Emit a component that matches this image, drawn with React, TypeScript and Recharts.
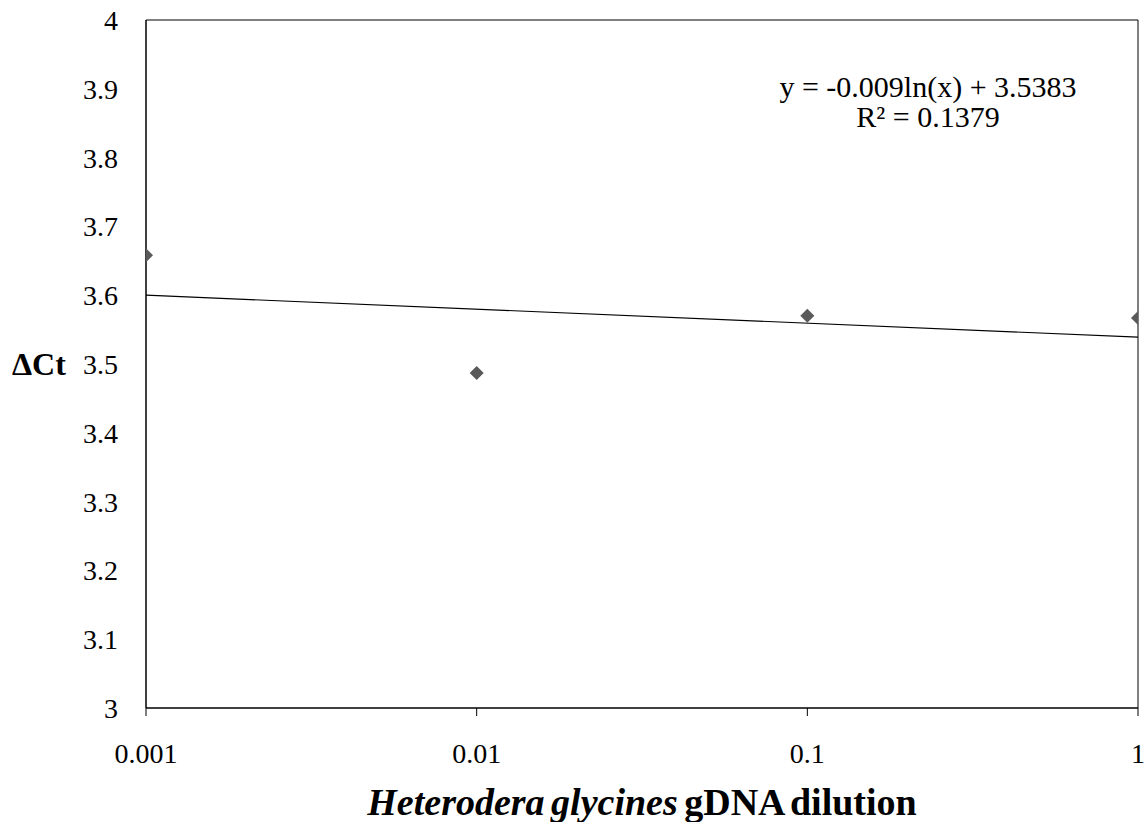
import { ScatterChart, Scatter, XAxis, YAxis, ReferenceArea, Label } from "recharts";

// dilution levels and measured ΔCt
const dilutions = [0.001, 0.01, 0.1, 1];
const deltaCt = [3.658, 3.487, 3.57, 3.567];

// logarithmic trendline, read at the ends of the axis
const trendX = [0.001, 1];
const trendY = [3.6, 3.539];

const xTicks = [0.001, 0.01, 0.1, 1];
const yTicks = [3, 3.1, 3.2, 3.3, 3.4, 3.5, 3.6, 3.7, 3.8, 3.9, 4];

const equation = "y = -0.009ln(x) + 3.5383";
const rSquared = "R² = 0.1379";

const FONT = '"Liberation Serif", "Times New Roman", serif';

const points = dilutions.map((x, i) => ({ x, y: deltaCt[i] }));
const trend = trendX.map((x, i) => ({ x, y: trendY[i] }));

const Diamond = (props: any) => {
  const { cx, cy } = props;
  const r = 7;
  return <path d={`M${cx},${cy - r}L${cx + r},${cy}L${cx},${cy + r}L${cx - r},${cy}Z`} fill="#5a5a5a" />;
};

const XTitle = (props: any) => {
  const { x, y, width, height } = props.viewBox;
  return (
    <text
      x={x + width / 2}
      y={y + height - 7}
      textAnchor="middle"
      fontFamily={FONT}
      fontSize={38}
      fontWeight="bold"
      fill="#000"
      style={{ wordSpacing: -3 }}
    >
      <tspan fontStyle="italic">Heterodera glycines</tspan>
      <tspan> gDNA dilution</tspan>
    </text>
  );
};

const EquationLabel = (props: any) => {
  const { x, width, y } = props.viewBox;
  const cx = x + width - 210;
  return (
    <text textAnchor="middle" fontFamily={FONT} fontSize={30} fill="#000">
      <tspan x={cx} y={y + 77}>{equation}</tspan>
      <tspan x={cx} y={y + 107}>{rSquared}</tspan>
    </text>
  );
};

export default function App() {
  return (
    <div style={{ position: "absolute", left: 0, top: 0, background: "#fff" }}>
      <ScatterChart width={1148} height={822} margin={{ top: 20, right: 10, bottom: 0, left: 0 }}>
        <XAxis
          type="number"
          dataKey="x"
          scale="log"
          domain={[0.001, 1]}
          ticks={xTicks}
          allowDataOverflow
          height={114}
          stroke="#000"
          tickSize={8}
          tickMargin={27}
          tick={{ fill: "#000", fontSize: 28, fontFamily: FONT }}
          tickFormatter={(v) => String(v)}
        >
          <Label content={<XTitle />} />
        </XAxis>
        <YAxis
          type="number"
          dataKey="y"
          domain={[3, 4]}
          ticks={yTicks}
          allowDataOverflow
          width={146}
          stroke="#000"
          tickLine={false}
          tickSize={0}
          tickMargin={28}
          tick={{ fill: "#000", fontSize: 28, fontFamily: FONT }}
          tickFormatter={(v) => String(v)}
        >
          <Label
            value="ΔCt"
            position="insideLeft"
            offset={12}
            style={{ fontFamily: FONT, fontSize: 32, fontWeight: "bold", fill: "#000" }}
          />
        </YAxis>
        <ReferenceArea x1={0.001} x2={1} y1={3} y2={4} fill="none" stroke="#000" strokeWidth={1} ifOverflow="visible">
          <Label content={<EquationLabel />} />
        </ReferenceArea>
        <Scatter data={trend} line={{ stroke: "#000", strokeWidth: 1.2 }} shape={() => <g />} isAnimationActive={false} />
        <Scatter data={points} shape={<Diamond />} isAnimationActive={false} />
      </ScatterChart>
    </div>
  );
}
